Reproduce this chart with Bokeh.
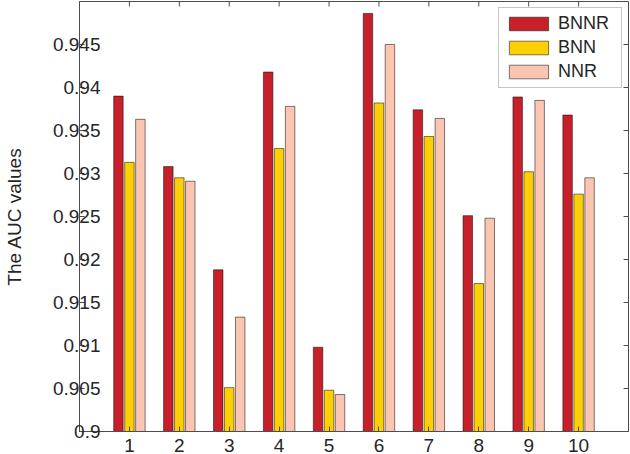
import math
from bokeh.plotting import figure
from bokeh.models import (ColumnDataSource, FixedTicker, Range1d, Legend, LegendItem)
from bokeh.transform import dodge
from bokeh.embed import file_html
from bokeh.resources import INLINE

# ---- data ----
groups = [1, 2, 3, 4, 5, 6, 7, 8, 9, 10]
bnnr = [0.9390, 0.9308, 0.9188, 0.9418, 0.9098, 0.9486, 0.9374, 0.9251, 0.9389, 0.9368]
bnn = [0.9313, 0.9295, 0.9051, 0.9329, 0.9048, 0.9382, 0.9343, 0.9172, 0.9302, 0.9276]
nnr = [0.9363, 0.9291, 0.9133, 0.9378, 0.9043, 0.9450, 0.9364, 0.9248, 0.9385, 0.9295]
series_names = ["BNNR", "BNN", "NNR"]
y_ticks = [0.9, 0.905, 0.91, 0.915, 0.92, 0.925, 0.93, 0.935, 0.94, 0.945]
y_tick_labels = ["0.9", "0.905", "0.91", "0.915", "0.92", "0.925", "0.93", "0.935", "0.94", "0.945"]
y_label = "The AUC values"
x_min, x_max = 0, 11
y_min, y_max = 0.9, 0.95

source = ColumnDataSource(dict(g=groups, BNNR=bnnr, BNN=bnn, NNR=nnr))

FONT = "Liberation Sans"
TXT = "#262626"
AX = "#4d4d4d"
colors = ["#C8202A", "#FFCF06", "#FAC6B2"]
offsets = [-0.22, 0.0, 0.22]

p = figure(width=630, height=454, output_backend="svg", toolbar_location=None,
           x_range=Range1d(x_min, x_max), y_range=Range1d(y_min, y_max),
           min_border_left=78, min_border_right=2, min_border_top=1,
           min_border_bottom=0)
p.xgrid.visible = False
p.ygrid.visible = False
p.outline_line_color = AX
p.outline_line_width = 1
p.background_fill_color = "white"
p.border_fill_color = "white"

renderers = []
for name, col, off in zip(series_names, colors, offsets):
    r = p.vbar(x=dodge("g", off, range=p.x_range), top=name, bottom=y_min,
               width=0.19, source=source, fill_color=col,
               line_color="black", line_alpha=0.5, line_width=1)
    renderers.append(r)

# inward ticks on the top and right edges of the box (clipped to the frame)
p.scatter(x=groups, y=[y_max] * len(groups), marker="dash", size=10,
          angle=math.pi / 2, line_color=AX, line_width=1)
p.scatter(x=[x_max] * len(y_ticks), y=y_ticks, marker="dash", size=10,
          line_color=AX, line_width=1)

def style_axis(ax):
    ax.axis_line_color = AX
    ax.major_tick_line_color = AX
    ax.major_tick_in = 5
    ax.major_tick_out = 0
    ax.minor_tick_line_color = None
    ax.major_label_text_font = FONT
    ax.major_label_text_color = TXT
    ax.major_label_text_font_size = "19px"

xax = p.xaxis[0]
xax.ticker = FixedTicker(ticks=groups)
style_axis(xax)
xax.major_label_standoff = 7

yax = p.yaxis[0]
yax.ticker = FixedTicker(ticks=y_ticks)
yax.major_label_overrides = {t: l for t, l in zip(y_ticks, y_tick_labels)}
style_axis(yax)
yax.major_label_standoff = -21
yax.axis_label = y_label
yax.axis_label_text_font = FONT
yax.axis_label_text_font_size = "19px"
yax.axis_label_text_font_style = "normal"
yax.axis_label_text_color = TXT
yax.axis_label_standoff = 25

legend = Legend(items=[LegendItem(label=n, renderers=[r]) for n, r in zip(series_names, renderers)],
                location="top_right")
legend.label_text_font = FONT
legend.label_text_font_size = "18px"
legend.label_text_color = TXT
legend.glyph_width = 49
legend.glyph_height = 17
legend.label_height = 18
legend.label_width = 58
legend.label_standoff = 5
legend.spacing = 3
legend.padding = 5
legend.margin = 6
legend.border_line_color = "#8c8c8c"
legend.border_line_width = 1
legend.background_fill_color = "white"
legend.background_fill_alpha = 1.0
p.add_layout(legend)

open("out.html", "w").write(file_html(p, INLINE))
